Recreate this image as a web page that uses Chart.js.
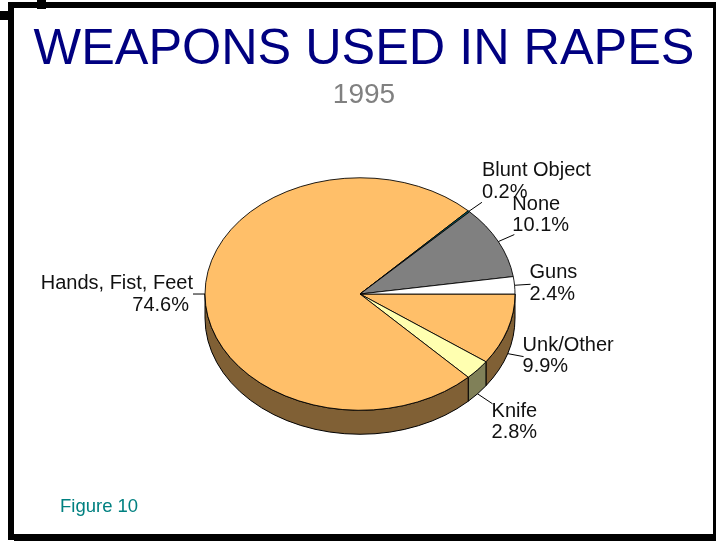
<!DOCTYPE html>
<html>
<head>
<meta charset="utf-8">
<style>
  body { margin: 0; background: #fff; }
  canvas { display: block; }
</style>
<script src="https://cdn.jsdelivr.net/npm/chart.js@4/dist/chart.umd.min.js"></script>
</head>
<body>
<canvas id="grafico" width="716" height="541"></canvas>
<script>
// Datos, en orden de las agujas del reloj desde las 3

const categorias = ["Unk/Other", "Knife", "Hands, Fist, Feet", "Blunt Object", "None", "Guns"];
const valores = [9.9, 2.8, 74.6, 0.2, 10.1, 2.4];
const etiquetasValor = ["9.9%", "2.8%", "74.6%", "0.2%", "10.1%", "2.4%"];

// Colores de cada tajada: cara superior y pared lateral

const coloresCara = ["#ffbf69", "#ffffb0", "#ffbf69", "#006666", "#808080", "#ffffff"];
const coloresLado = ["#806035", "#808058", "#806035", "#003333", "#404040", "#808080"];

// Pie en perspectiva

const APLASTADO = 0.75;
const RADIO = 155;
const GROSOR = 24;
const CORRIMIENTO_X = -4;

// Guía de cada etiqueta: [dx, dy] de la línea, [dx, dy] del texto desde el fin de la línea

const guias = [
    { linea: [16, 3], texto: [-1, -6], align: "left" },
    { linea: [15, 10], texto: [-1, 13], align: "left" },
    { linea: [-12, 0], texto: [0, -5], align: "right", sangria: -4 },
    { linea: [13, -9], texto: [0, -26], align: "left" },
    { linea: [16, -7], texto: [-2, -25], align: "left" },
    { linea: [16, -1], texto: [-1, -6], align: "left" }
];

const FUENTE = '"Liberation Sans", Arial, sans-serif';

const marco = {

    id: "marco",

    beforeDraw(chart) {

        const ctx = chart.ctx;

        ctx.save();
        ctx.fillStyle = "#ffffff";
        ctx.fillRect(0, 0, 716, 541);

        ctx.fillStyle = "#000000";
        ctx.fillRect(8, 2, 708, 6);
        ctx.fillRect(8, 2, 6, 538);
        ctx.fillRect(713, 2, 3, 538);
        ctx.fillRect(14, 534, 702, 7);
        ctx.fillRect(37, 0, 9, 9);
        ctx.fillRect(0, 11, 9, 9);
        ctx.restore();

    }

};

const pie3d = {

    id: "pie3d",

    beforeDatasetsDraw(chart) {

        const ctx = chart.ctx;
        const arcos = chart.getDatasetMeta(0).data;
        const cx = arcos[0].x + CORRIMIENTO_X;
        const cy = arcos[0].y;
        const ry = RADIO * APLASTADO;

        // Pared lateral, solo la mitad que mira al frente

        ctx.save();
        ctx.lineWidth = 1;
        ctx.strokeStyle = "#000000";

        arcos.forEach(function(arco, i){

            const ini = Math.max(arco.startAngle, 0);
            const fin = Math.min(arco.endAngle, Math.PI);

            if (ini >= fin) return;

            ctx.beginPath();
            ctx.ellipse(cx, cy, RADIO, ry, 0, ini, fin);
            ctx.ellipse(cx, cy + GROSOR, RADIO, ry, 0, fin, ini, true);
            ctx.closePath();
            ctx.fillStyle = coloresLado[i];
            ctx.fill();
            ctx.stroke();

        });

        ctx.restore();

        // La cara superior se aplasta y se corre junto con la pared

        ctx.save();
        ctx.translate(cx, cy);
        ctx.scale(1, APLASTADO);
        ctx.translate(-arcos[0].x, -cy);

    },

    afterDatasetsDraw(chart) {

        const ctx = chart.ctx;

        ctx.restore();

        const arcos = chart.getDatasetMeta(0).data;
        const cx = arcos[0].x + CORRIMIENTO_X;
        const cy = arcos[0].y;

        ctx.save();
        ctx.font = "20px " + FUENTE;
        ctx.textBaseline = "alphabetic";

        arcos.forEach(function(arco, i){

            const medio = (arco.startAngle + arco.endAngle) / 2;
            const guia = guias[i];

            const x0 = cx + RADIO * Math.cos(medio);
            let y0 = cy + RADIO * APLASTADO * Math.sin(medio);

            // Si sale de la parte de abajo, arranca del borde de la pared
            if (Math.sin(medio) > 0.01) y0 += GROSOR;

            const x1 = x0 + guia.linea[0];
            const y1 = y0 + guia.linea[1];

            ctx.beginPath();
            ctx.moveTo(x0, y0);
            ctx.lineTo(x1, y1);
            ctx.strokeStyle = "#000000";
            ctx.lineWidth = 1;
            ctx.stroke();

            const xt = x1 + guia.texto[0];
            const yt = y1 + guia.texto[1];

            ctx.fillStyle = "#111111";
            ctx.textAlign = guia.align;
            ctx.fillText(categorias[i], xt, yt);
            ctx.fillText(etiquetasValor[i], xt + (guia.sangria || 0), yt + 21.5);

        });

        ctx.fillStyle = "#008080";
        ctx.textAlign = "left";
        ctx.font = "18.5px " + FUENTE;
        ctx.fillText("Figure 10", 60, 512);

        ctx.restore();

    }

};

// Crear gráfico

new Chart(document.getElementById("grafico"),{

    type:"pie",

    data:{

        labels:categorias,

        datasets:[{

            data:valores,

            backgroundColor:coloresCara,

            borderColor:"#000000",

            borderWidth:1,

            radius:RADIO

        }]

    },

    options:{

        responsive:false,

        animation:false,

        rotation:90,

        layout:{
            padding:{ left:12, right:0, top:0, bottom:65 }
        },

        plugins:{

            legend:{
                display:false
            },

            tooltip:{
                enabled:false
            },

            title:{

                display:true,

                text:"WEAPONS USED IN RAPES",

                color:"#000080",

                font:{ family:FUENTE, size:50.4, weight:"normal", lineHeight:1.12 },

                padding:{ top:22, bottom:0 }

            },

            subtitle:{

                display:true,

                text:"1995",

                color:"#808080",

                font:{ family:FUENTE, size:28, weight:"normal" },

                padding:{ top:0, bottom:0 }

            }

        }

    },

    plugins:[marco, pie3d]

});

</script>
</body>
</html>
